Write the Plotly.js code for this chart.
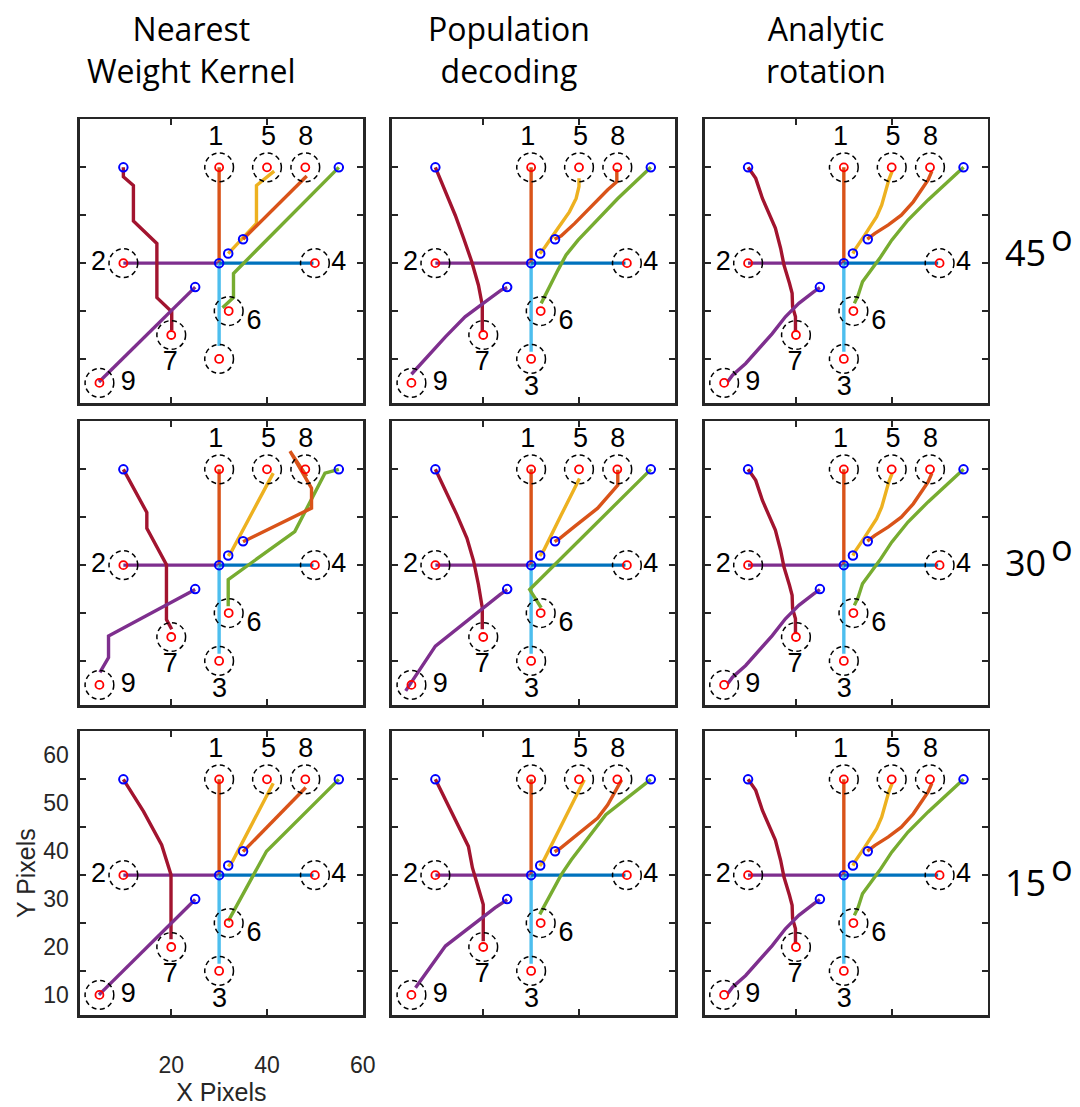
<!DOCTYPE html>
<html><head><meta charset="utf-8">
<script src="https://cdn.plot.ly/plotly-3.0.1.min.js"></script>
<style>html,body{margin:0;padding:0;background:#fff;} #chart{width:1080px;height:1107px;}</style>
</head><body><div id="chart"></div>
<script>
// ---------------- data ----------------
const methodTitles = ['Nearest<br>Weight Kernel', 'Population<br>decoding', 'Analytic<br>rotation'];
const angleLabels = ['45', '30', '15'];
const degreeMark = 'o';

const targetIds = ['1','2','3','4','5','6','7','8','9'];
const targetX = [30, 10, 30, 50, 40, 32, 20, 48, 5];
const targetY = [55, 35, 15, 35, 55, 25, 20, 55, 10];
const labelX = [29.3, 4.8, 30.1, 55.0, 40.3, 37.3, 19.8, 48.1, 11.0];
const labelY = [61.1, 35.0, 8.8, 35.0, 61.1, 22.6, 14.0, 61.1, 9.9];

const startX = [30, 31.9, 35, 55, 10, 25];
const startY = [35, 37, 40, 55, 55, 30];

const xTickMarks = [20, 40];
const xTickLabels = [20, 40, 60];
const yTickMarks = [15, 25, 35, 45, 55];
const yTickLabels = [10, 20, 30, 40, 50, 60];

// straight trajectories 1-4 (from centre)
const line1X = [30, 30],   line1Y = [35, 55];
const line2X = [30, 10],   line2Y = [35, 35];
const line3X = [30, 30],   line3Y = [35, 16.5];
const line3YNwk45 = [35, 17.7];
const line4X = [30, 49.7], line4Y = [35, 35];

// Nearest Weight Kernel, 45 deg
const nwk45_5x = [31.9, 37.8, 37.8, 41.5], nwk45_5y = [37.0, 43.3, 51.2, 54.2];
const nwk45_6x = [55, 33, 33, 30.7],       nwk45_6y = [55, 32.85, 27.8, 25.7];
const nwk45_7x = [10, 10, 12.1, 12.1, 17, 17, 20.1, 20.1];
const nwk45_7y = [55, 53.05, 51.2, 43.8, 39.1, 27.8, 24.85, 21];
const nwk45_8x = [35, 48.3], nwk45_8y = [40, 53.2];
const nwk45_9x = [25, 4.9],  nwk45_9y = [30, 10.2];

// Nearest Weight Kernel, 30 deg
const nwk30_5x = [31.9, 32.6, 41.3], nwk30_5y = [36.9, 37.9, 54.2];
const nwk30_6x = [55, 52.1, 45.8, 31.9, 31.9], nwk30_6y = [55, 54.2, 42, 32, 26.4];
const nwk30_7x = [10, 14.9, 14.9, 19, 19, 20.1], nwk30_7y = [55, 46, 42.7, 35.1, 23.65, 21.6];
const nwk30_8x = [35, 49.3, 49.3, 44.8, 48.3], nwk30_8y = [39.9, 46.9, 51.05, 58.8, 53.5];
const nwk30_9x = [25, 6.9, 6.9, 5.1], nwk30_9y = [29.9, 20.2, 15.7, 12.6];

// Nearest Weight Kernel, 15 deg
const nwk15_5x = [31.9, 32.8, 41.3], nwk15_5y = [36.8, 37.9, 54.2];
const nwk15_6x = [55, 39.9, 31.9], nwk15_6y = [55, 40, 25.4];
const nwk15_7x = [10, 14.2, 18, 19.95, 19.95], nwk15_7y = [55, 48.3, 41.3, 35.1, 21.6];
const nwk15_8x = [35, 48.1], nwk15_8y = [39.9, 53.3];
const nwk15_9x = [25, 4.9],  nwk15_9y = [29.9, 10];

// Population decoding, 45 deg
const pd45_5x = [31.8, 32.8, 35.6, 38, 39.4, 40, 40], pd45_5y = [37, 38.2, 42.3, 45.7, 48.5, 51, 52.7];
const pd45_6x = [55, 48.1, 39.8, 37.3, 35.6, 33.9, 32.1], pd45_6y = [55, 48.5, 39.8, 36.7, 33.55, 30.1, 26.6];
const pd45_7x = [10, 11.7, 14.15, 15.9, 17.6, 19, 19.8, 19.8], pd45_7y = [55, 51, 45, 40.2, 35.3, 30.4, 26.2, 20.7];
const pd45_8x = [34.9, 36.3, 39.1, 42.5, 46, 47.9, 47.9], pd45_8y = [40, 40.7, 43.3, 46.8, 50.3, 52, 54.65];
const pd45_9x = [25, 23.8, 20.4, 16.2, 12.1, 7.9, 5], pd45_9y = [29.9, 29.4, 26.9, 23.8, 19.6, 15.1, 11.8];

// Population decoding, 30 deg
const pd30_5x = [31.8, 32.7, 36.3, 38.7, 40.1], pd30_5y = [36.9, 38.2, 45.5, 50.35, 53.1];
const pd30_6x = [55, 29.7, 32.1], pd30_6y = [55, 29.9, 26.1];
const pd30_7x = [10, 12.1, 14.5, 16.6, 18, 19, 19.8, 19.8], pd30_7y = [55, 50.7, 45.5, 40.6, 35.8, 30.9, 26.1, 21.6];
const pd30_8x = [34.9, 36, 39.1, 43.9, 48.1, 48.1], pd30_8y = [39.9, 40.6, 43.1, 46.9, 51.7, 54.9];
const pd30_9x = [25, 23.5, 10, 3.8], pd30_9y = [29.9, 28.85, 18.1, 8.75];

// Population decoding, 15 deg
const pd15_5x = [31.8, 32.7, 41.1], pd15_5y = [36.9, 38.2, 54.9];
const pd15_6x = [55, 45.6, 38.4, 36.3, 31.8], pd15_6y = [55, 47.6, 38.2, 35.1, 26.8];
const pd15_7x = [10, 13.5, 16.9, 17.75, 19, 20, 20], pd15_7y = [55, 47.9, 41, 36.5, 32, 28.85, 21.2];
const pd15_8x = [34.9, 36.1, 43.9, 46, 48.9], pd15_8y = [39.9, 40.6, 46.9, 49.7, 54.9];
const pd15_9x = [25, 22.5, 12.1, 5.85], pd15_9y = [29.9, 28.2, 20.2, 11.5];

// Analytic rotation (same in all three rows)
const ar_5x = [31.9, 32.5, 34.4, 36.85, 37.9, 38.7, 39.4, 40.1], ar_5y = [37, 38.1, 40.9, 44.7, 47.1, 50.3, 52.4, 54.2];
const ar_6x = [55, 51.7, 47.6, 43.4, 40, 37.5, 35.1, 33.9, 33, 32.2];
const ar_6y = [55, 52, 48.2, 44, 39.8, 36, 32.85, 31.1, 28.3, 26.6];
const ar_7x = [10, 11.6, 13, 14.2, 15.7, 16.8, 17.5, 18.65, 19.2, 19.3, 19.9, 19.9];
const ar_7y = [55, 52.7, 48.5, 45.7, 42.3, 38.1, 34.6, 30.8, 28.7, 25.9, 23.8, 20.7];
const ar_8x = [34.9, 36.5, 39.3, 42, 44.5, 46.3, 47.6, 48.4], ar_8y = [40, 41.2, 43, 45, 47.8, 50.3, 52.35, 54.2];
const ar_9x = [25, 23.7, 20.6, 17.8, 15.05, 12.3, 9.5, 6.75, 5.7], ar_9y = [29.9, 29, 26.6, 23.8, 20.3, 17.2, 14.05, 11.6, 10.2];

const lineColors = ['#D95319', '#7E2F8E', '#4DBEEE', '#0072BD', '#EDB120', '#77AC30', '#A2142F', '#D95319', '#7E2F8E'];

// ---------------- build ----------------
const W = 1080, H = 1107;
const colDom = [[79.8, 363], [391.8, 675], [704.5, 987.7]];
const rowDom = [[119.2, 403], [421.2, 705], [731.2, 1015]];
const XR = [0.9, 60.05], YR = [5.8, 65.05];
const frameCol = '#262626';
const helv = 'Liberation Sans, Arial, sans-serif';

function panelLines(p) {
  const l3 = p === 0 ? line3YNwk45 : line3Y;
  const sets = [
    [[nwk45_5x,nwk45_5y],[nwk45_6x,nwk45_6y],[nwk45_7x,nwk45_7y],[nwk45_8x,nwk45_8y],[nwk45_9x,nwk45_9y]],
    [[pd45_5x,pd45_5y],[pd45_6x,pd45_6y],[pd45_7x,pd45_7y],[pd45_8x,pd45_8y],[pd45_9x,pd45_9y]],
    [[ar_5x,ar_5y],[ar_6x,ar_6y],[ar_7x,ar_7y],[ar_8x,ar_8y],[ar_9x,ar_9y]],
    [[nwk30_5x,nwk30_5y],[nwk30_6x,nwk30_6y],[nwk30_7x,nwk30_7y],[nwk30_8x,nwk30_8y],[nwk30_9x,nwk30_9y]],
    [[pd30_5x,pd30_5y],[pd30_6x,pd30_6y],[pd30_7x,pd30_7y],[pd30_8x,pd30_8y],[pd30_9x,pd30_9y]],
    [[ar_5x,ar_5y],[ar_6x,ar_6y],[ar_7x,ar_7y],[ar_8x,ar_8y],[ar_9x,ar_9y]],
    [[nwk15_5x,nwk15_5y],[nwk15_6x,nwk15_6y],[nwk15_7x,nwk15_7y],[nwk15_8x,nwk15_8y],[nwk15_9x,nwk15_9y]],
    [[pd15_5x,pd15_5y],[pd15_6x,pd15_6y],[pd15_7x,pd15_7y],[pd15_8x,pd15_8y],[pd15_9x,pd15_9y]],
    [[ar_5x,ar_5y],[ar_6x,ar_6y],[ar_7x,ar_7y],[ar_8x,ar_8y],[ar_9x,ar_9y]]
  ];
  return [[line1X,line1Y],[line2X,line2Y],[line3X,l3],[line4X,line4Y]].concat(sets[p]);
}

const traces = [];
const shapes = [];
const layout = {
  width: W, height: H, margin: {l:0, r:0, t:0, b:0},
  paper_bgcolor: '#fff', plot_bgcolor: '#fff', showlegend: false, hovermode: false,
  font: {family: helv, color: '#000'},
  annotations: []
};

for (let p = 0; p < 9; p++) {
  const r = Math.floor(p / 3), c = p % 3;
  const s = p === 0 ? '' : String(p + 1);
  const xa = 'x' + s, ya = 'y' + s;
  const isBL = (p === 6);
  const xaxis = {
    domain: [colDom[c][0] / W, colDom[c][1] / W], anchor: ya, range: XR,
    showline: true, mirror: 'ticks', linewidth: 2.7, linecolor: frameCol,
    ticks: 'inside', ticklen: 6, tickwidth: 2.2, tickcolor: frameCol,
    tickmode: 'array', tickvals: isBL ? xTickLabels : xTickMarks,
    showticklabels: isBL, ticklabelstandoff: 28,
    tickfont: {family: helv, size: 23, color: frameCol},
    showgrid: false, zeroline: false, fixedrange: true
  };
  if (isBL) xaxis.title = {text: 'X Pixels', font: {size: 25, color: frameCol, family: helv}, standoff: 2};
  layout['xaxis' + s] = xaxis;
  layout['yaxis' + s] = {
    domain: [1 - rowDom[r][1] / H, 1 - rowDom[r][0] / H], anchor: xa, range: YR,
    showline: true, mirror: 'ticks', linewidth: 2.7, linecolor: frameCol,
    ticks: 'inside', ticklen: 6, tickwidth: 2.2, tickcolor: frameCol,
    tickmode: 'array', tickvals: yTickMarks, showticklabels: false,
    showgrid: false, zeroline: false, fixedrange: true
  };

  const lines = panelLines(p);
  lines.forEach((ln, k) => {
    traces.push({x: ln[0], y: ln[1], mode: 'lines', xaxis: xa, yaxis: ya,
      line: {color: lineColors[k], width: 3.4}, hoverinfo: 'skip'});
  });
  // dashed circles round targets
  targetX.forEach((tx, i) => {
    shapes.push({type: 'circle', xref: xa, yref: ya, layer: 'above',
      x0: tx - 3, x1: tx + 3, y0: targetY[i] - 3, y1: targetY[i] + 3,
      line: {color: '#000', width: 1.5, dash: '5px,3.5px'}});
  });
  traces.push({x: targetX, y: targetY, mode: 'markers', xaxis: xa, yaxis: ya,
    marker: {symbol: 'circle-open', size: 8, color: '#FF0000', line: {width: 1.8}}, hoverinfo: 'skip'});
  traces.push({x: startX, y: startY, mode: 'markers', xaxis: xa, yaxis: ya,
    marker: {symbol: 'circle-open', size: 8.5, color: '#0000FF', line: {width: 2}}, hoverinfo: 'skip'});
  // number labels (panel 1 has no "3")
  const lx = [], ly = [], lt = [];
  targetIds.forEach((t, i) => {
    if (p === 0 && t === '3') return;
    lx.push(labelX[i]); ly.push(labelY[i]); lt.push(t);
  });
  traces.push({x: lx, y: ly, text: lt, mode: 'text', xaxis: xa, yaxis: isBL ? 'y10' : ya,
    textposition: 'middle center', cliponaxis: false,
    textfont: {family: helv, size: 27, color: '#000'}, hoverinfo: 'skip'});
}

// label-only y axis for the bottom-left panel
layout.yaxis10 = {
  overlaying: 'y7', anchor: 'x7', side: 'left', range: YR,
  tickmode: 'array', tickvals: yTickLabels, ticks: '', showline: false,
  showgrid: false, zeroline: false, fixedrange: true, ticklabelstandoff: 10,
  tickfont: {family: helv, size: 23, color: frameCol},
  title: {text: 'Y Pixels', font: {size: 25, color: frameCol, family: helv}, standoff: 0}
};

const colTitleX = [191, 509, 826];
methodTitles.forEach((t, i) => {
  layout.annotations.push({xref: 'paper', yref: 'paper', x: colTitleX[i] / W, y: 1 - 49 / H,
    text: t, showarrow: false, xanchor: 'center', yanchor: 'middle',
    font: {family: 'Open Sans, sans-serif', size: 32, color: '#000'}});
});
const rowLabelY = [253, 562, 882];
angleLabels.forEach((a, i) => {
  layout.annotations.push({xref: 'paper', yref: 'paper', x: 1003 / W, y: 1 - rowLabelY[i] / H,
    text: a, showarrow: false, xanchor: 'left', yanchor: 'middle',
    font: {family: 'Open Sans, sans-serif', size: 36, color: '#000'}});
  layout.annotations.push({xref: 'paper', yref: 'paper', x: 1049 / W, y: 1 - (rowLabelY[i] - 15) / H,
    text: degreeMark, showarrow: false, xanchor: 'left', yanchor: 'middle',
    font: {family: 'Open Sans, sans-serif', size: 36, color: '#000'}});
});
layout.shapes = shapes;

Plotly.newPlot('chart', traces, layout, {staticPlot: true, displayModeBar: false});
</script></body></html>
